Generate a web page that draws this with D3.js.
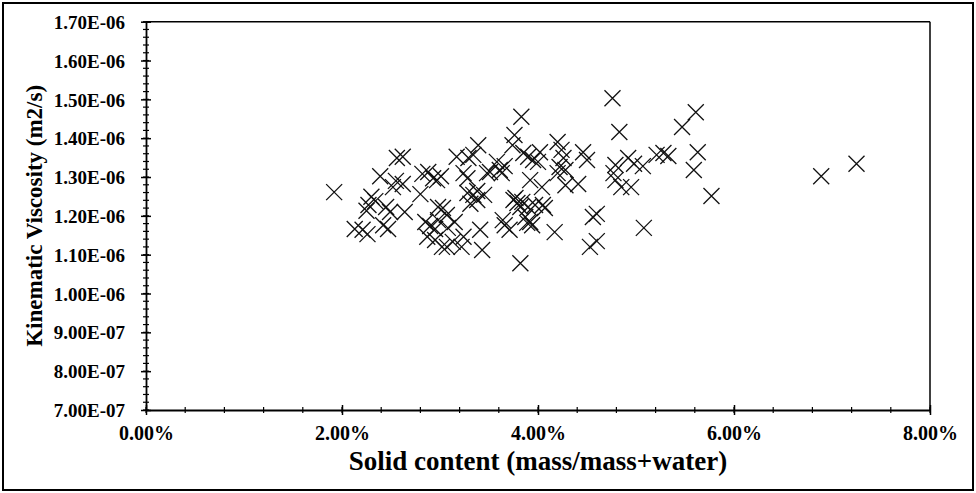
<!DOCTYPE html>
<html>
<head>
<meta charset="utf-8">
<script src="https://cdn.jsdelivr.net/npm/d3@7"></script>
<style>
  body { margin: 0; background: #fff; }
  text { font-family: "Liberation Serif", "Times New Roman", serif; font-weight: bold; fill: #000; }
</style>
</head>
<body>
<script>
// solid content in percent, viscosity in units of 1e-6 m2/s
var solidPct = [
  1.92, 2.13, 2.21, 2.26, 2.30, 2.34, 2.27, 2.25, 2.39, 2.45,
  2.49, 2.42, 2.47, 2.56, 2.62, 2.55, 2.62, 2.52, 2.64, 2.82,
  2.88, 2.93, 2.97, 2.80, 2.98, 2.85, 2.90, 2.95, 2.98, 3.07,
  3.15, 2.87, 2.95, 3.07, 3.13, 3.02, 3.22, 3.41, 3.24, 3.28,
  3.34, 3.38, 3.45, 3.31, 3.38, 3.17, 3.29, 3.34, 3.39, 3.24,
  3.28, 3.48, 3.51, 3.43, 3.01, 3.03, 3.08, 3.58, 3.66, 3.63,
  3.74, 3.76, 3.83, 3.66, 3.71, 3.75, 3.79, 3.82, 3.85, 3.90,
  3.95, 4.00, 3.77, 3.84, 3.90, 3.97, 3.87, 3.92, 3.94, 3.89,
  3.64, 3.92, 4.04, 3.82, 4.05, 4.17, 3.61, 4.02, 4.20, 4.24,
  4.26, 4.22, 4.20, 4.28, 4.46, 4.50, 4.41, 4.07, 4.28, 4.53,
  4.60, 4.56, 4.60, 4.76, 4.83, 4.79, 4.77, 4.79, 4.85, 4.95,
  4.92, 4.98, 5.07, 5.08, 5.21, 5.28, 5.33, 5.47, 5.61, 5.63,
  5.59, 5.77, 6.89, 7.25
];
var viscE6 = [
  1.261, 1.166, 1.164, 1.153, 1.249, 1.238, 1.228, 1.213, 1.302, 1.223,
  1.210, 1.176, 1.166, 1.349, 1.352, 1.290, 1.282, 1.274, 1.210, 1.308,
  1.313, 1.297, 1.292, 1.256, 1.223, 1.184, 1.174, 1.166, 1.189, 1.202,
  1.184, 1.146, 1.138, 1.120, 1.133, 1.120, 1.120, 1.164, 1.146, 1.259,
  1.254, 1.264, 1.254, 1.231, 1.241, 1.352, 1.349, 1.357, 1.382, 1.310,
  1.297, 1.310, 1.313, 1.112, 1.302, 1.220, 1.169, 1.339, 1.328, 1.310,
  1.382, 1.408, 1.455, 1.176, 1.164, 1.241, 1.233, 1.078, 1.362, 1.352,
  1.344, 1.339, 1.246, 1.236, 1.223, 1.228, 1.197, 1.184, 1.176, 1.182,
  1.189, 1.292, 1.274, 1.223, 1.228, 1.158, 1.318, 1.364, 1.390, 1.370,
  1.349, 1.326, 1.310, 1.318, 1.364, 1.344, 1.282, 1.220, 1.279, 1.120,
  1.135, 1.197, 1.205, 1.503, 1.416, 1.331, 1.310, 1.292, 1.274, 1.274,
  1.349, 1.334, 1.328, 1.169, 1.357, 1.362, 1.354, 1.429, 1.467, 1.364,
  1.318, 1.251, 1.302, 1.334
];

var xTicks = [0, 0.02, 0.04, 0.06, 0.08];
var yTicks = [7e-7, 8e-7, 9e-7, 1.0e-6, 1.1e-6, 1.2e-6, 1.3e-6, 1.4e-6, 1.5e-6, 1.6e-6, 1.7e-6];

var data = solidPct.map(function(s, i) {
  return { solid: s / 100, visc: viscE6[i] * 1e-6 };
});

var w = 976, h = 493;
var plotL = 146, plotR = 930, plotT = 21.7, plotB = 410;

var svg = d3.select("body").append("svg")
  .attr("width", w)
  .attr("height", h);

// outer chart border
svg.append("rect")
  .attr("x", 3).attr("y", 3)
  .attr("width", w - 6).attr("height", h - 6)
  .attr("fill", "#fff")
  .attr("stroke", "#000")
  .attr("stroke-width", 2);

var x = d3.scaleLinear().domain([0, 0.08]).range([plotL, plotR]);
var y = d3.scaleLinear().domain([7e-7, 1.7e-6]).range([plotB, plotT]);

// 1.70E-06 style labels
function sci(v) {
  var p = v.toExponential(2).split("e");
  var e = +p[1];
  return p[0] + "E" + (e < 0 ? "-" : "+") + String(Math.abs(e)).padStart(2, "0");
}

// plot frame: top and right edges
svg.append("line")
  .attr("x1", plotL).attr("x2", plotR).attr("y1", plotT).attr("y2", plotT)
  .attr("stroke", "#000").attr("stroke-width", 1.5);
svg.append("line")
  .attr("x1", plotR).attr("x2", plotR).attr("y1", plotT).attr("y2", plotB)
  .attr("stroke", "#000").attr("stroke-width", 1.5);

// minor ticks
var xMinor = d3.range(0, 21).map(function(i) { return i * 0.004; });
var yMinor = d3.range(0, 51).map(function(i) { return 7e-7 + i * 2e-8; });

svg.append("g").selectAll("line").data(xMinor).join("line")
  .attr("x1", function(d) { return x(d); }).attr("x2", function(d) { return x(d); })
  .attr("y1", plotB - 3).attr("y2", plotB + 3)
  .attr("stroke", "#000").attr("stroke-width", 1.2);

svg.append("g").selectAll("line").data(yMinor).join("line")
  .attr("y1", function(d) { return y(d); }).attr("y2", function(d) { return y(d); })
  .attr("x1", plotL - 3).attr("x2", plotL + 3)
  .attr("stroke", "#000").attr("stroke-width", 1.2);

// axes
var gx = svg.append("g")
  .attr("transform", "translate(0," + plotB + ")")
  .call(d3.axisBottom(x).tickValues(xTicks).tickFormat(d3.format(".2%")).tickSizeOuter(0).tickPadding(10));
var gy = svg.append("g")
  .attr("transform", "translate(" + plotL + ",0)")
  .call(d3.axisLeft(y).tickValues(yTicks).tickFormat(sci).tickSizeOuter(0).tickPadding(15));

[gx, gy].forEach(function(g) {
  g.select(".domain").attr("stroke", "#000").attr("stroke-width", 1.8);
  g.selectAll(".tick line").attr("stroke", "#000").attr("stroke-width", 1.5);
  g.selectAll("text").attr("font-family", null).attr("font-size", null);
});
gx.selectAll(".tick line").attr("y1", -5).attr("y2", 5);
gy.selectAll(".tick line").attr("x1", 5).attr("x2", -5);
gx.selectAll(".tick text").style("font-size", "20px");
gy.selectAll(".tick text").style("font-size", "19px").attr("dy", "0.35em");

// axis titles
svg.append("text")
  .attr("x", (plotL + plotR) / 2)
  .attr("y", 470)
  .attr("text-anchor", "middle")
  .style("font-size", "27px")
  .text("Solid content (mass/mass+water)");

svg.append("text")
  .attr("transform", "translate(42," + ((plotT + plotB) / 2) + ")rotate(-90)")
  .attr("text-anchor", "middle")
  .style("font-size", "23px")
  .text("Kinematic Viscosity (m2/s)");

// x markers
var r = 8;
svg.append("g").selectAll("path").data(data).join("path")
  .attr("transform", function(d) { return "translate(" + x(d.solid) + "," + y(d.visc) + ")"; })
  .attr("d", "M" + (-r) + "," + (-r) + "L" + r + "," + r + "M" + (-r) + "," + r + "L" + r + "," + (-r))
  .attr("fill", "none")
  .attr("stroke", "#111")
  .attr("stroke-width", 1.3);
</script>
</body>
</html>
